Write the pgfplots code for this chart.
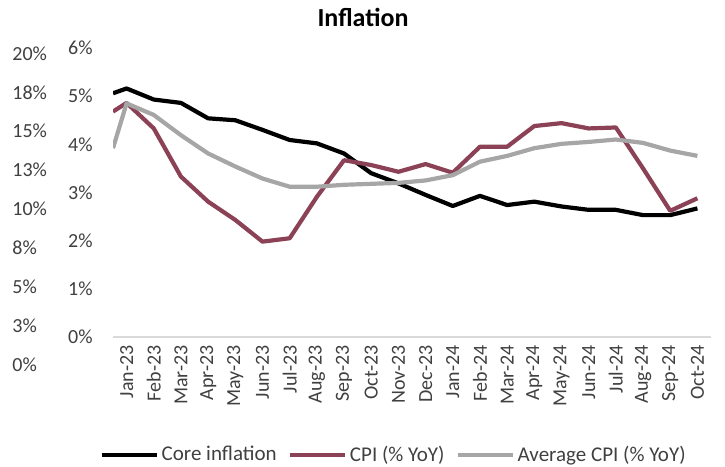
\documentclass[border=0pt]{standalone}
\usepackage{fontspec}
\setmainfont{Carlito}
\usepackage{pgfplots}
\pgfplotsset{compat=1.18}
\definecolor{cpired}{RGB}{140,66,86}
\definecolor{avggray}{RGB}{166,166,166}
\definecolor{txt}{RGB}{64,64,64}

\begin{document}
\begin{tikzpicture}
\path[use as bounding box] (0,0) rectangle (362.5bp,233.5bp);

% outer left scale (labels only)
\begin{axis}[at={(6bp,51bp)}, anchor=south west, scale only axis,
  width=10bp, height=155.85bp,
  xmin=0, xmax=1, ymin=0, ymax=20,
  hide x axis, axis y line*=left, y axis line style={draw=none},
  major tick length=0,
  ytick={0,2.5,...,20},
  yticklabels={0\%,3\%,5\%,8\%,10\%,13\%,15\%,18\%,20\%},
  yticklabel style={anchor=west, inner sep=0pt, text=txt,
    font=\fontsize{10bp}{12bp}\selectfont}]
\end{axis}

\begin{axis}[at={(56.5bp,65bp)}, anchor=south west, scale only axis,
  width=299bp, height=144.5bp,
  xmin=-0.5, xmax=21.5, ymin=0, ymax=6,
  axis x line*=bottom, axis y line*=left,
  x axis line style={-, draw=black!15, line width=0.75bp},
  y axis line style={draw=none},
  major tick length=0,
  xtick={0,...,21},
  xticklabels={Jan-23,Feb-23,Mar-23,Apr-23,May-23,Jun-23,Jul-23,Aug-23,Sep-23,Oct-23,Nov-23,Dec-23,
    Jan-24,Feb-24,Mar-24,Apr-24,May-24,Jun-24,Jul-24,Aug-24,Sep-24,Oct-24},
  xticklabel style={rotate=90, anchor=east, inner sep=0pt, text=txt,
    font=\fontsize{10bp}{12bp}\selectfont},
  xticklabel shift=4bp,
  ytick={0,...,6},
  yticklabels={0\%,1\%,2\%,3\%,4\%,5\%,6\%},
  yticklabel style={anchor=east, inner sep=0pt, text=txt,
    font=\fontsize{10bp}{12bp}\selectfont},
  yticklabel shift=10bp,
  title={Inflation},
  title style={at={(0.418,1)}, anchor=center, yshift=9.5bp,
    font=\bfseries\fontsize{13bp}{15bp}\selectfont},
  legend columns=3,
  legend style={at={(0.47,-0.408)}, anchor=center, draw=none, fill=none,
    inner sep=0pt, text=txt, font=\fontsize{10.5bp}{13bp}\selectfont,
    nodes={inner xsep=1.5bp},
    /tikz/every even column/.append style={column sep=4bp}},
  legend image code/.code={\draw[#1] (0bp,0bp) -- (27.5bp,0bp);},
  every axis plot/.append style={line width=2.1bp, line join=round},
]
\addplot[black] coordinates {
(-0.5,5.06) (0,5.16) (1,4.93) (2,4.86) (3,4.54) (4,4.50) (5,4.30) (6,4.09)
(7,4.02) (8,3.81) (9,3.40) (10,3.19) (11,2.95) (12,2.72) (13,2.93) (14,2.74)
(15,2.81) (16,2.71) (17,2.64) (18,2.64) (19,2.53) (20,2.53) (21,2.67)};
\addlegendentry{Core inflation}
\addplot[cpired] coordinates {
(-0.5,4.68) (0,4.86) (1,4.33) (2,3.33) (3,2.81) (4,2.43) (5,1.98) (6,2.05)
(7,2.91) (8,3.67) (9,3.57) (10,3.43) (11,3.59) (12,3.41) (13,3.95) (14,3.95)
(15,4.38) (16,4.44) (17,4.33) (18,4.35) (19,3.50) (20,2.62) (21,2.88)};
\addlegendentry{CPI (\% YoY)}
\addplot[avggray] coordinates {
(-0.5,3.92) (0,4.85) (1,4.61) (2,4.19) (3,3.81) (4,3.54) (5,3.29) (6,3.12)
(7,3.12) (8,3.16) (9,3.18) (10,3.20) (11,3.25) (12,3.36) (13,3.64) (14,3.76)
(15,3.92) (16,4.01) (17,4.05) (18,4.10) (19,4.03) (20,3.87) (21,3.76)};
\addlegendentry{Average CPI (\% YoY)}
\end{axis}
\end{tikzpicture}
\end{document}
